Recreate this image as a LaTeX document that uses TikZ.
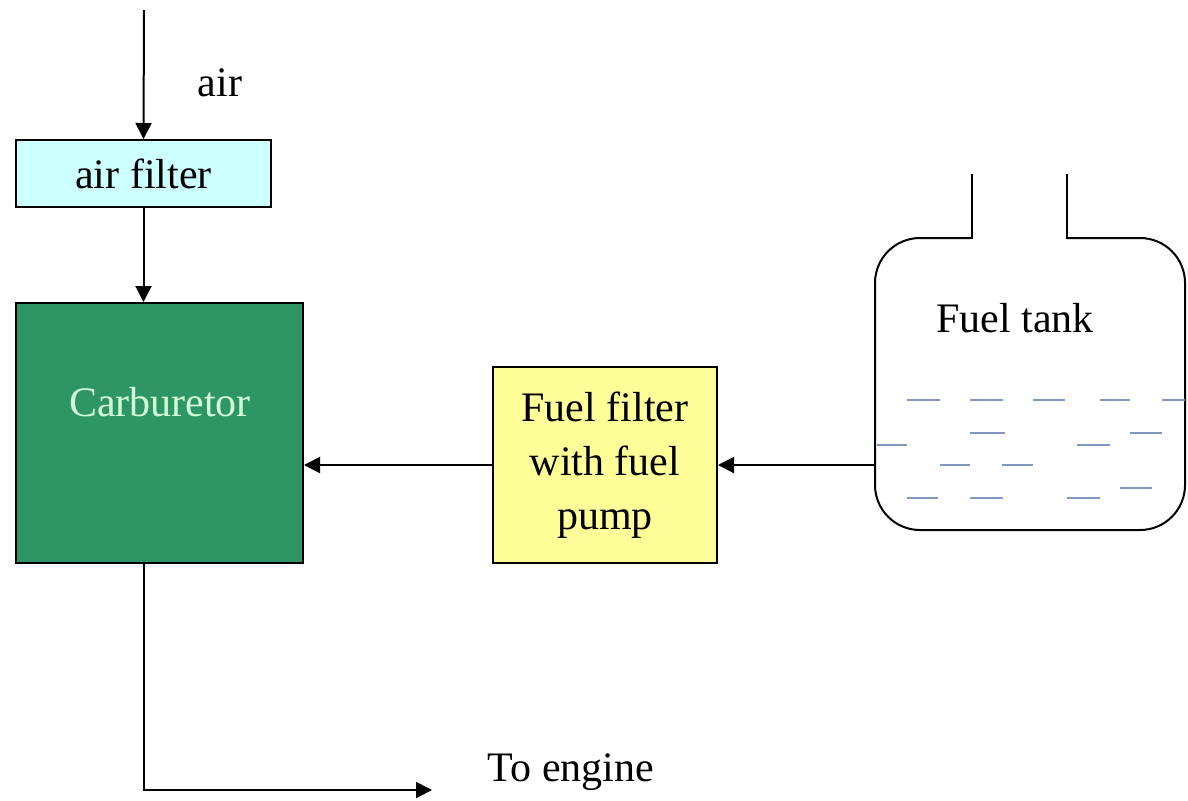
\documentclass[tikz,border=0pt]{standalone}
\usepackage{fontspec}
\setmainfont{Liberation Serif}
\usetikzlibrary{arrows.meta}
\definecolor{aircyan}{RGB}{204,255,255}
\definecolor{carbgreen}{RGB}{46,150,100}
\definecolor{carbtext}{RGB}{210,255,215}
\definecolor{ffyellow}{RGB}{255,255,153}
\definecolor{liquid}{RGB}{130,150,190}
\tikzset{
  blockbox/.style={draw=black, line width=1pt, inner sep=0pt, align=center, font=\fontsize{21}{27}\selectfont},
  lbl/.style={inner sep=0pt, font=\fontsize{21}{27}\selectfont},
  arr/.style={line width=1pt, -{Triangle[length=8pt,width=8pt]}},
  plain/.style={line width=1pt},
  wave/.style={line width=1.2pt, color=liquid}
}
\begin{document}
\begin{tikzpicture}[x=0.5pt,y=-0.5pt]
\useasboundingbox (0,0) rectangle (1188,800);
% nodes
\node[blockbox, fill=aircyan, minimum width=127.5pt, minimum height=33.5pt] (af) at (143.5,173.5) {air filter};
\node[blockbox, fill=carbgreen, minimum width=143.5pt, minimum height=130pt] (carb) at (159.5,433) {};
\node[lbl, text=carbtext] (carbt) at (160,402) {Carburetor};
\node[blockbox, fill=ffyellow, minimum width=112pt, minimum height=98pt] (ff) at (605,465) {Fuel filter\\with fuel\\pump};
\node[lbl] (airl) at (220,83) {air};
\node[lbl] (tankl) at (1015,318) {Fuel tank};
\node[lbl] (engl) at (571,772) {To engine};
\coordinate (airtop) at (144,10);
\coordinate (tankleft) at (875,465);
\coordinate (eng) at (432,790);
% tank
\draw[plain, rounded corners=22.5pt] (972,238) -- (875,238) -- (875,530) -- (1185,530) -- (1185,238) -- (1067,238);
\draw[plain, line cap=rect] (972,175) -- (972,238);
\draw[plain, line cap=rect] (1067,175) -- (1067,238);
% liquid
\foreach \a/\b/\y in {907/940/400, 970/1003/400, 1033/1065/400, 1100/1130/400, 1162/1185/400,
  970/1005/433, 1130/1162/433, 877/907/445, 1077/1110/445, 940/970/465, 1002/1033/465,
  907/938/498, 970/1003/498, 1067/1100/498, 1120/1152/488}
  \draw[wave] (\a,\y) -- (\b,\y);
% connectors
\draw[arr] (airtop) -- (af.north);
\draw[arr] (af.south) -- (af.south |- carb.north);
\draw[arr] (tankleft) -- (ff.east);
\draw[arr] (ff.west) -- (ff.west -| carb.east);
\draw[arr] (af.south |- carb.south) |- (eng);
\end{tikzpicture}
\end{document}
